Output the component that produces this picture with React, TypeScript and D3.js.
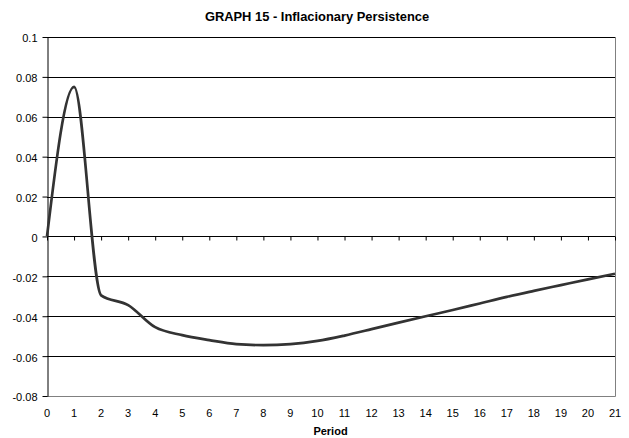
import React, { useEffect, useRef } from 'react';
import * as d3 from 'd3';

const periods = d3.range(0, 22);
const persistence = [
  0, 0.075, -0.0295, -0.0344, -0.0455, -0.0495, -0.052, -0.054, -0.0545, -0.054, -0.0524,
  -0.0497, -0.0465, -0.0432, -0.040, -0.0369, -0.0336, -0.0303, -0.0273, -0.0244, -0.0215, -0.0187,
];
const yTicks = [0.1, 0.08, 0.06, 0.04, 0.02, 0, -0.02, -0.04, -0.06, -0.08];

const W = 629;
const H = 438;
const margin = { top: 37, right: 14, bottom: 42, left: 47 };
const font = "'Liberation Sans', Arial, sans-serif";

function App() {
  const svgRef = useRef<SVGSVGElement>(null);

  useEffect(() => {
    const svg = d3.select(svgRef.current);
    svg.selectAll('*').remove();

    const x = d3.scaleLinear().domain([0, 21]).range([margin.left, W - margin.right]);
    const y = d3.scaleLinear().domain([-0.08, 0.1]).range([H - margin.bottom, margin.top]);

    svg.append('text')
      .attr('x', 317)
      .attr('y', 21)
      .attr('text-anchor', 'middle')
      .attr('font-family', font)
      .attr('font-weight', 'bold')
      .attr('font-size', 12.9)
      .text('GRAPH 15 - Inflacionary Persistence');

    // grid lines
    svg.append('g')
      .selectAll('line')
      .data(yTicks)
      .join('line')
      .attr('x1', x(0))
      .attr('x2', x(21))
      .attr('y1', d => Math.round(y(d)) + 0.5)
      .attr('y2', d => Math.round(y(d)) + 0.5)
      .attr('stroke', '#000')
      .attr('stroke-width', 1);

    // plot frame (right / bottom)
    svg.append('path')
      .attr('d', `M${Math.round(x(0))},${Math.round(y(-0.08)) + 0.5}H${Math.round(x(21)) + 0.5}V${Math.round(y(0.1))}`)
      .attr('fill', 'none')
      .attr('stroke', '#808080');

    // y axis
    const yAxis = svg.append('g')
      .attr('transform', `translate(${Math.round(x(0)) + 0.5},0)`)
      .call(d3.axisLeft(y).tickValues(yTicks).tickSize(5).tickSizeOuter(0)
        .tickFormat(d => (d === 0 ? '0' : String(+(d as number).toFixed(2)))));
    yAxis.select('.domain').attr('stroke', '#000');
    yAxis.selectAll('.tick line').attr('stroke', '#000');
    yAxis.selectAll('.tick text')
      .attr('font-family', font)
      .attr('font-size', 11)
      .attr('fill', '#000')
      .attr('x', -10)
      .attr('dy', '0.45em');

    // x axis ticks on zero line
    const xAxis = svg.append('g')
      .attr('transform', `translate(0,${Math.round(y(0)) + 0.5})`)
      .call(d3.axisBottom(x).tickValues(periods).tickSize(4).tickSizeOuter(0).tickFormat(() => ''));
    xAxis.select('.domain').remove();
    xAxis.selectAll('.tick line').attr('stroke', '#000');

    // x labels at bottom
    svg.append('g')
      .selectAll('text')
      .data(periods)
      .join('text')
      .attr('x', d => x(d))
      .attr('y', y(-0.08) + 21)
      .attr('text-anchor', 'middle')
      .attr('font-family', font)
      .attr('font-size', 11)
      .text(d => d);

    svg.append('text')
      .attr('x', 330.5)
      .attr('y', 435)
      .attr('text-anchor', 'middle')
      .attr('font-family', font)
      .attr('font-weight', 'bold')
      .attr('font-size', 11)
      .text('Period');

    const line = d3.line<number>()
      .x((_, i) => x(periods[i]))
      .y(d => y(d))
      .curve(d3.curveMonotoneX);

    svg.append('path')
      .datum(persistence)
      .attr('d', line)
      .attr('fill', 'none')
      .attr('stroke', '#333')
      .attr('stroke-width', 2.7)
      .attr('stroke-linejoin', 'round');
  }, []);

  return (
    <div style={{ position: 'absolute', left: 0, top: 0 }}>
      <svg ref={svgRef} width={W} height={H} style={{ display: 'block', background: '#fff' }} />
    </div>
  );
}

export default App;
